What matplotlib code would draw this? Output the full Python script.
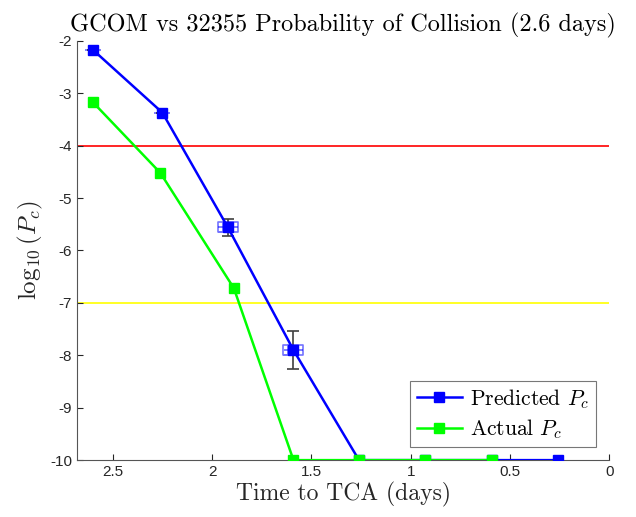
import matplotlib.pyplot as plt
import numpy as np
from matplotlib.path import Path

plt.rcParams['mathtext.fontset'] = 'cm'
plt.rcParams['axes.unicode_minus'] = False

# predicted Pc (blue) with uncertainty
pred_t = [2.60, 2.25, 1.92, 1.59, 1.26, 0.93, 0.59, 0.26]
pred_pc = [-2.17, -3.37, -5.56, -7.90, -10.0, -10.0, -10.0, -10.0]
pred_terr = [0.04, 0.04, 0.05, 0.05, 0.0, 0.0, 0.0, 0.0]
pred_pcerr_lo = [0.0, 0.0, 0.17, 0.37, 0.0, 0.0, 0.0, 0.0]
pred_pcerr_hi = [0.0, 0.0, 0.17, 0.37, 0.0, 0.0, 0.0, 0.0]

# actual Pc (green)
act_t = [2.60, 2.26, 1.89, 1.59, 1.26, 0.93, 0.59]
act_pc = [-3.17, -4.52, -6.72, -10.0, -10.0, -10.0, -10.0]

red_thresh = -4
yellow_thresh = -7

fig = plt.figure(figsize=(6.36, 5.17), dpi=100)
ax = fig.add_axes([0.121, 0.110, 0.837, 0.811])

ax.axhline(red_thresh, color='red', lw=1.2, zorder=1)
ax.axhline(yellow_thresh, color='yellow', lw=1.2, zorder=1)

# uncertainty bars
ax.errorbar(pred_t, pred_pc, xerr=pred_terr, fmt='none', ecolor='blue',
            elinewidth=1.2, alpha=0.6, capsize=0, zorder=2)
ax.errorbar(pred_t, pred_pc, yerr=[pred_pcerr_lo, pred_pcerr_hi], fmt='none',
            ecolor='#404040', elinewidth=1.2, capsize=4, capthick=1.2, zorder=2)

# boxes around the points with a spread in Pc
box = Path([(-1.1, -0.5), (1.1, -0.5), (1.1, 0.5), (-1.1, 0.5), (-1.1, -0.5),
            (-0.5, -0.5), (-0.5, 0.5), (0.5, 0.5), (0.5, -0.5)])
has_spread = [i for i, e in enumerate(pred_pcerr_lo) if e > 0]
ax.plot([pred_t[i] for i in has_spread], [pred_pc[i] for i in has_spread],
        ls='none', marker=box, ms=15, mfc='none', mec='blue', mew=1.2,
        alpha=0.55, zorder=2)

ax.plot(pred_t, pred_pc, color='blue', marker='s', ms=7, lw=1.8,
        label='Predicted $P_c$', zorder=3)
ax.plot(act_t, act_pc, color='#00ff00', marker='s', ms=7, lw=1.8,
        label='Actual $P_c$', zorder=3)

ax.set_xlim(2.68, 0)
ax.set_ylim(-10, -2)
ax.set_xticks([2.5, 2, 1.5, 1, 0.5, 0])
ax.set_xticklabels(['2.5', '2', '1.5', '1', '0.5', '0'])
ax.set_yticks(np.arange(-10, -1, 1))
ax.set_yticklabels([str(v) for v in range(-10, -1)])

for s in ['top', 'right']:
    ax.spines[s].set_visible(False)
for s in ['left', 'bottom']:
    ax.spines[s].set_color('#555555')
    ax.spines[s].set_linewidth(0.8)
ax.tick_params(direction='in', length=4, width=0.8, colors='#262626',
               labelsize=11)
for lab in ax.get_xticklabels() + ax.get_yticklabels():
    lab.set_family('Liberation Sans')

ax.set_title('GCOM vs 32355 Probability of Collision (2.6 days)',
             family='cmr10', fontsize=17.5, pad=7)
ax.set_xlabel('Time to TCA (days)', family='cmr10', fontsize=17, color='#262626',
              labelpad=2)
ax.set_ylabel(r'$\log_{10}(P_c)$', fontsize=18, color='#262626', labelpad=4)

leg = ax.legend(loc='lower right', prop={'family': 'cmr10', 'size': 15.5},
                fancybox=False, edgecolor='#777777', framealpha=1,
                handlelength=2.1, handletextpad=0.4, borderpad=0.3,
                labelspacing=0.3, borderaxespad=0.6)
leg.get_frame().set_linewidth(0.8)

fig.savefig('out.png', dpi=100)
